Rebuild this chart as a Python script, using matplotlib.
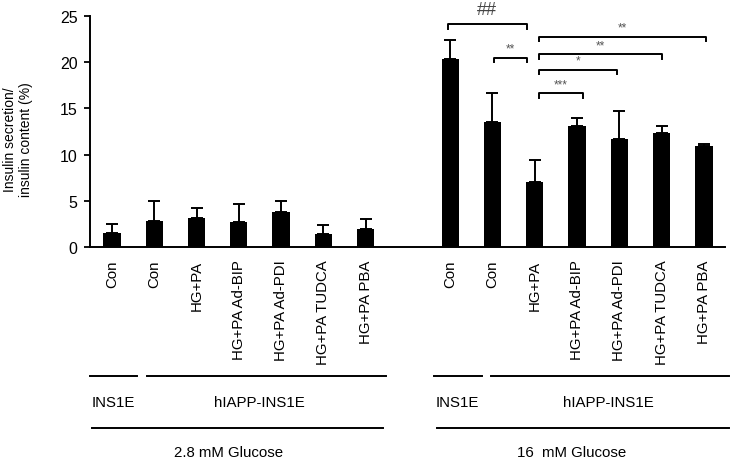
import matplotlib
matplotlib.use("Agg")
import matplotlib.pyplot as plt
from matplotlib.lines import Line2D

plt.rcParams['font.family'] = ['Liberation Sans', 'DejaVu Sans']

labels = ["Con", "Con", "HG+PA", "HG+PA Ad-BIP", "HG+PA Ad-PDI", "HG+PA TUDCA", "HG+PA PBA",
          "Con", "Con", "HG+PA", "HG+PA Ad-BIP", "HG+PA Ad-PDI", "HG+PA TUDCA", "HG+PA PBA"]
positions = [0, 1, 2, 3, 4, 5, 6, 8, 9, 10, 11, 12, 13, 14]
values = [1.48, 2.8, 3.1, 2.7, 3.82, 1.37, 1.98,
          20.3, 13.56, 7.0, 13.13, 11.72, 12.3, 10.9]
errors = [1.02, 2.2, 1.15, 1.95, 1.18, 1.04, 1.05,
          2.1, 3.11, 2.45, 0.8, 3.0, 0.76, 0.2]

# significance brackets: (x_start, x_end, y, label)
brackets = [(7.94, 9.81, 24.13, "##"),
            (9.03, 9.81, 20.5, "**"),
            (10.09, 11.13, 16.67, "***"),
            (10.09, 11.94, 19.2, "*"),
            (10.09, 13.0, 20.9, "**"),
            (10.09, 14.04, 22.76, "**")]

fig = plt.figure(figsize=(7.35, 4.64), dpi=100)
W, H = 735, 464
ax = fig.add_axes([90 / W, 1 - 248 / H, (725 - 90) / W, (248 - 17) / H])

ax.bar(positions, values, width=0.41, color="black", zorder=2)
ax.errorbar(positions, values, yerr=[[0] * len(errors), errors], fmt="none",
            ecolor="black", elinewidth=1.4, capsize=4, capthick=1.4, zorder=3)

ax.set_xlim(-0.52, 14.5)
ax.set_ylim(0, 25)
ax.set_yticks([0, 5, 10, 15, 20, 25])
ax.tick_params(axis="y", direction="out", length=4, width=1.3, labelsize=11.5, pad=5)
ax.set_xticks(positions)
ax.set_xticklabels(labels, rotation=90, fontsize=10.8, va="top")
ax.tick_params(axis="x", length=0, pad=9)
for s in ["top", "right"]:
    ax.spines[s].set_visible(False)
ax.spines["left"].set_linewidth(1.4)
ax.spines["bottom"].set_linewidth(1.4)

ax.set_ylabel("Insulin secretion/\ninsulin content (%)", fontsize=10)
ax.yaxis.set_label_coords(-0.089, 0.4675)

for x0, x1, y, txt in brackets:
    h = 0.5
    ax.plot([x0, x0, x1, x1], [y - h, y, y, y - h], color="black", lw=1.4, clip_on=False)
    if txt == "##":
        ax.text((x0 + x1) / 2, y + 0.6, txt, ha="center", va="bottom", fontsize=13,
                color="#444444")
    else:
        ax.text((x0 + x1) / 2, y + 0.3, txt, ha="center", va="bottom", fontsize=8.5,
                color="#555555")

def fline(x0, x1, y):
    fig.add_artist(Line2D([x0 / W, x1 / W], [1 - y / H, 1 - y / H], color="black",
                          lw=1.4, transform=fig.transFigure))

def ftext(x, y, s):
    fig.text(x / W, 1 - y / H, s, ha="center", va="center", fontsize=10.8)

fline(90, 137, 377)
fline(147, 386, 377)
fline(434, 482, 377)
fline(491, 729, 377)
fline(92, 383, 429)
fline(437, 729, 429)
ftext(113, 403, "INS1E")
ftext(259, 403, "hIAPP-INS1E")
ftext(457, 403, "INS1E")
ftext(608, 403, "hIAPP-INS1E")
ftext(229, 453, "2.8 mM Glucose")
ftext(572, 453, "16  mM Glucose")

fig.savefig("out.png", dpi=100)
